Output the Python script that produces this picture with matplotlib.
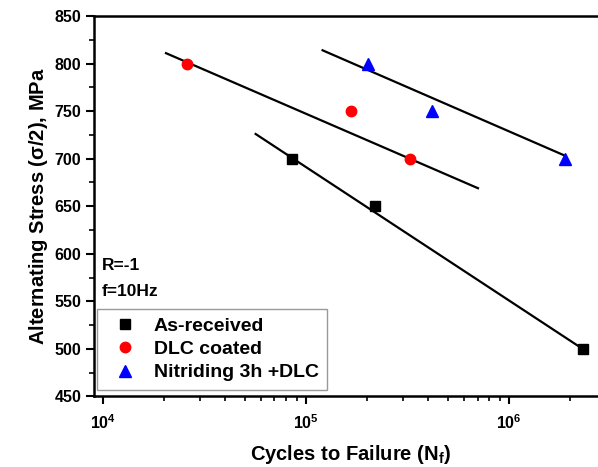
import numpy as np
import matplotlib
matplotlib.use('Agg')
import matplotlib.pyplot as plt
from matplotlib.ticker import LogLocator, FuncFormatter, MultipleLocator

plt.rcParams['font.family'] = ['Liberation Sans', 'DejaVu Sans']
plt.rcParams['font.weight'] = 'bold'
plt.rcParams['mathtext.fontset'] = 'custom'
plt.rcParams['mathtext.rm'] = 'Liberation Sans:bold'
plt.rcParams['mathtext.bf'] = 'Liberation Sans:bold'
plt.rcParams['mathtext.default'] = 'bf'

# data
as_cycles = [85100, 218000, 2300000]
as_stress = [700, 650, 500]
dlc_cycles = [26000, 167000, 324000]
dlc_stress = [800, 750, 700]
nit_cycles = [202000, 417000, 1890000]
nit_stress = [800, 750, 700]

# fitted lines (end points)
as_fit_cycles = [56600, 2300000]
as_fit_stress = [726, 500]
dlc_fit_cycles = [20500, 702000]
dlc_fit_stress = [811, 669]
nit_fit_cycles = [120800, 1890000]
nit_fit_stress = [814, 703]

fig = plt.figure(figsize=(5.98, 4.67), dpi=100)
ax = fig.add_axes([0.157, 0.151, 0.8567, 0.8146])

ax.plot(as_fit_cycles, as_fit_stress, color='black', lw=1.6, zorder=2)
ax.plot(dlc_fit_cycles, dlc_fit_stress, color='black', lw=1.6, zorder=2)
ax.plot(nit_fit_cycles, nit_fit_stress, color='black', lw=1.6, zorder=2)

ax.plot(as_cycles, as_stress, 's', color='black', ms=7, label='As-received', zorder=3)
ax.plot(dlc_cycles, dlc_stress, 'o', color='red', ms=7.5, label='DLC coated', zorder=3)
ax.plot(nit_cycles, nit_stress, '^', color='blue', ms=8.5, label='Nitriding 3h +DLC', zorder=3)

ax.set_xscale('log')
ax.set_xlim(9060, 3.0e6)
ax.set_ylim(450, 850)

ax.yaxis.set_major_locator(MultipleLocator(50))
ax.yaxis.set_minor_locator(MultipleLocator(25))
ax.xaxis.set_major_locator(LogLocator(base=10, numticks=10))
ax.xaxis.set_minor_locator(LogLocator(base=10, subs=np.arange(2, 10), numticks=20))
ax.xaxis.set_minor_formatter(FuncFormatter(lambda v, p: ''))
ax.xaxis.set_major_formatter(FuncFormatter(lambda v, p: r'$10^{%d}$' % round(np.log10(v))))

ax.tick_params(axis='both', which='major', direction='out', length=6, width=1.5,
               labelsize=11.5, top=False, right=False)
ax.tick_params(axis='both', which='minor', direction='out', length=3.5, width=1.2,
               top=False, right=False)
ax.tick_params(axis='x', which='major', pad=6)
ax.tick_params(axis='y', which='major', pad=3)
for s in ax.spines.values():
    s.set_linewidth(1.8)

ax.set_xlabel(r'Cycles to Failure (N$_{f}$)', fontsize=14.5, fontweight='bold', labelpad=8)
ax.set_ylabel(r'Alternating Stress ($\sigma$/2), MPa', fontsize=14.5, fontweight='bold', labelpad=3)

ax.text(0.016, 0.343, 'R=-1', transform=ax.transAxes, fontsize=12.5, fontweight='bold', va='center')
ax.text(0.016, 0.275, 'f=10Hz', transform=ax.transAxes, fontsize=12.5, fontweight='bold', va='center')

leg = ax.legend(loc='lower left', bbox_to_anchor=(0.006, 0.018),
                frameon=True, fancybox=False, edgecolor='gray', handletextpad=0.5,
                borderpad=0.42, labelspacing=0.3, handlelength=2.0, borderaxespad=0.0,
                prop={'weight': 'bold', 'size': 14})
leg.get_frame().set_linewidth(1.0)

fig.savefig('out.png', dpi=100)
